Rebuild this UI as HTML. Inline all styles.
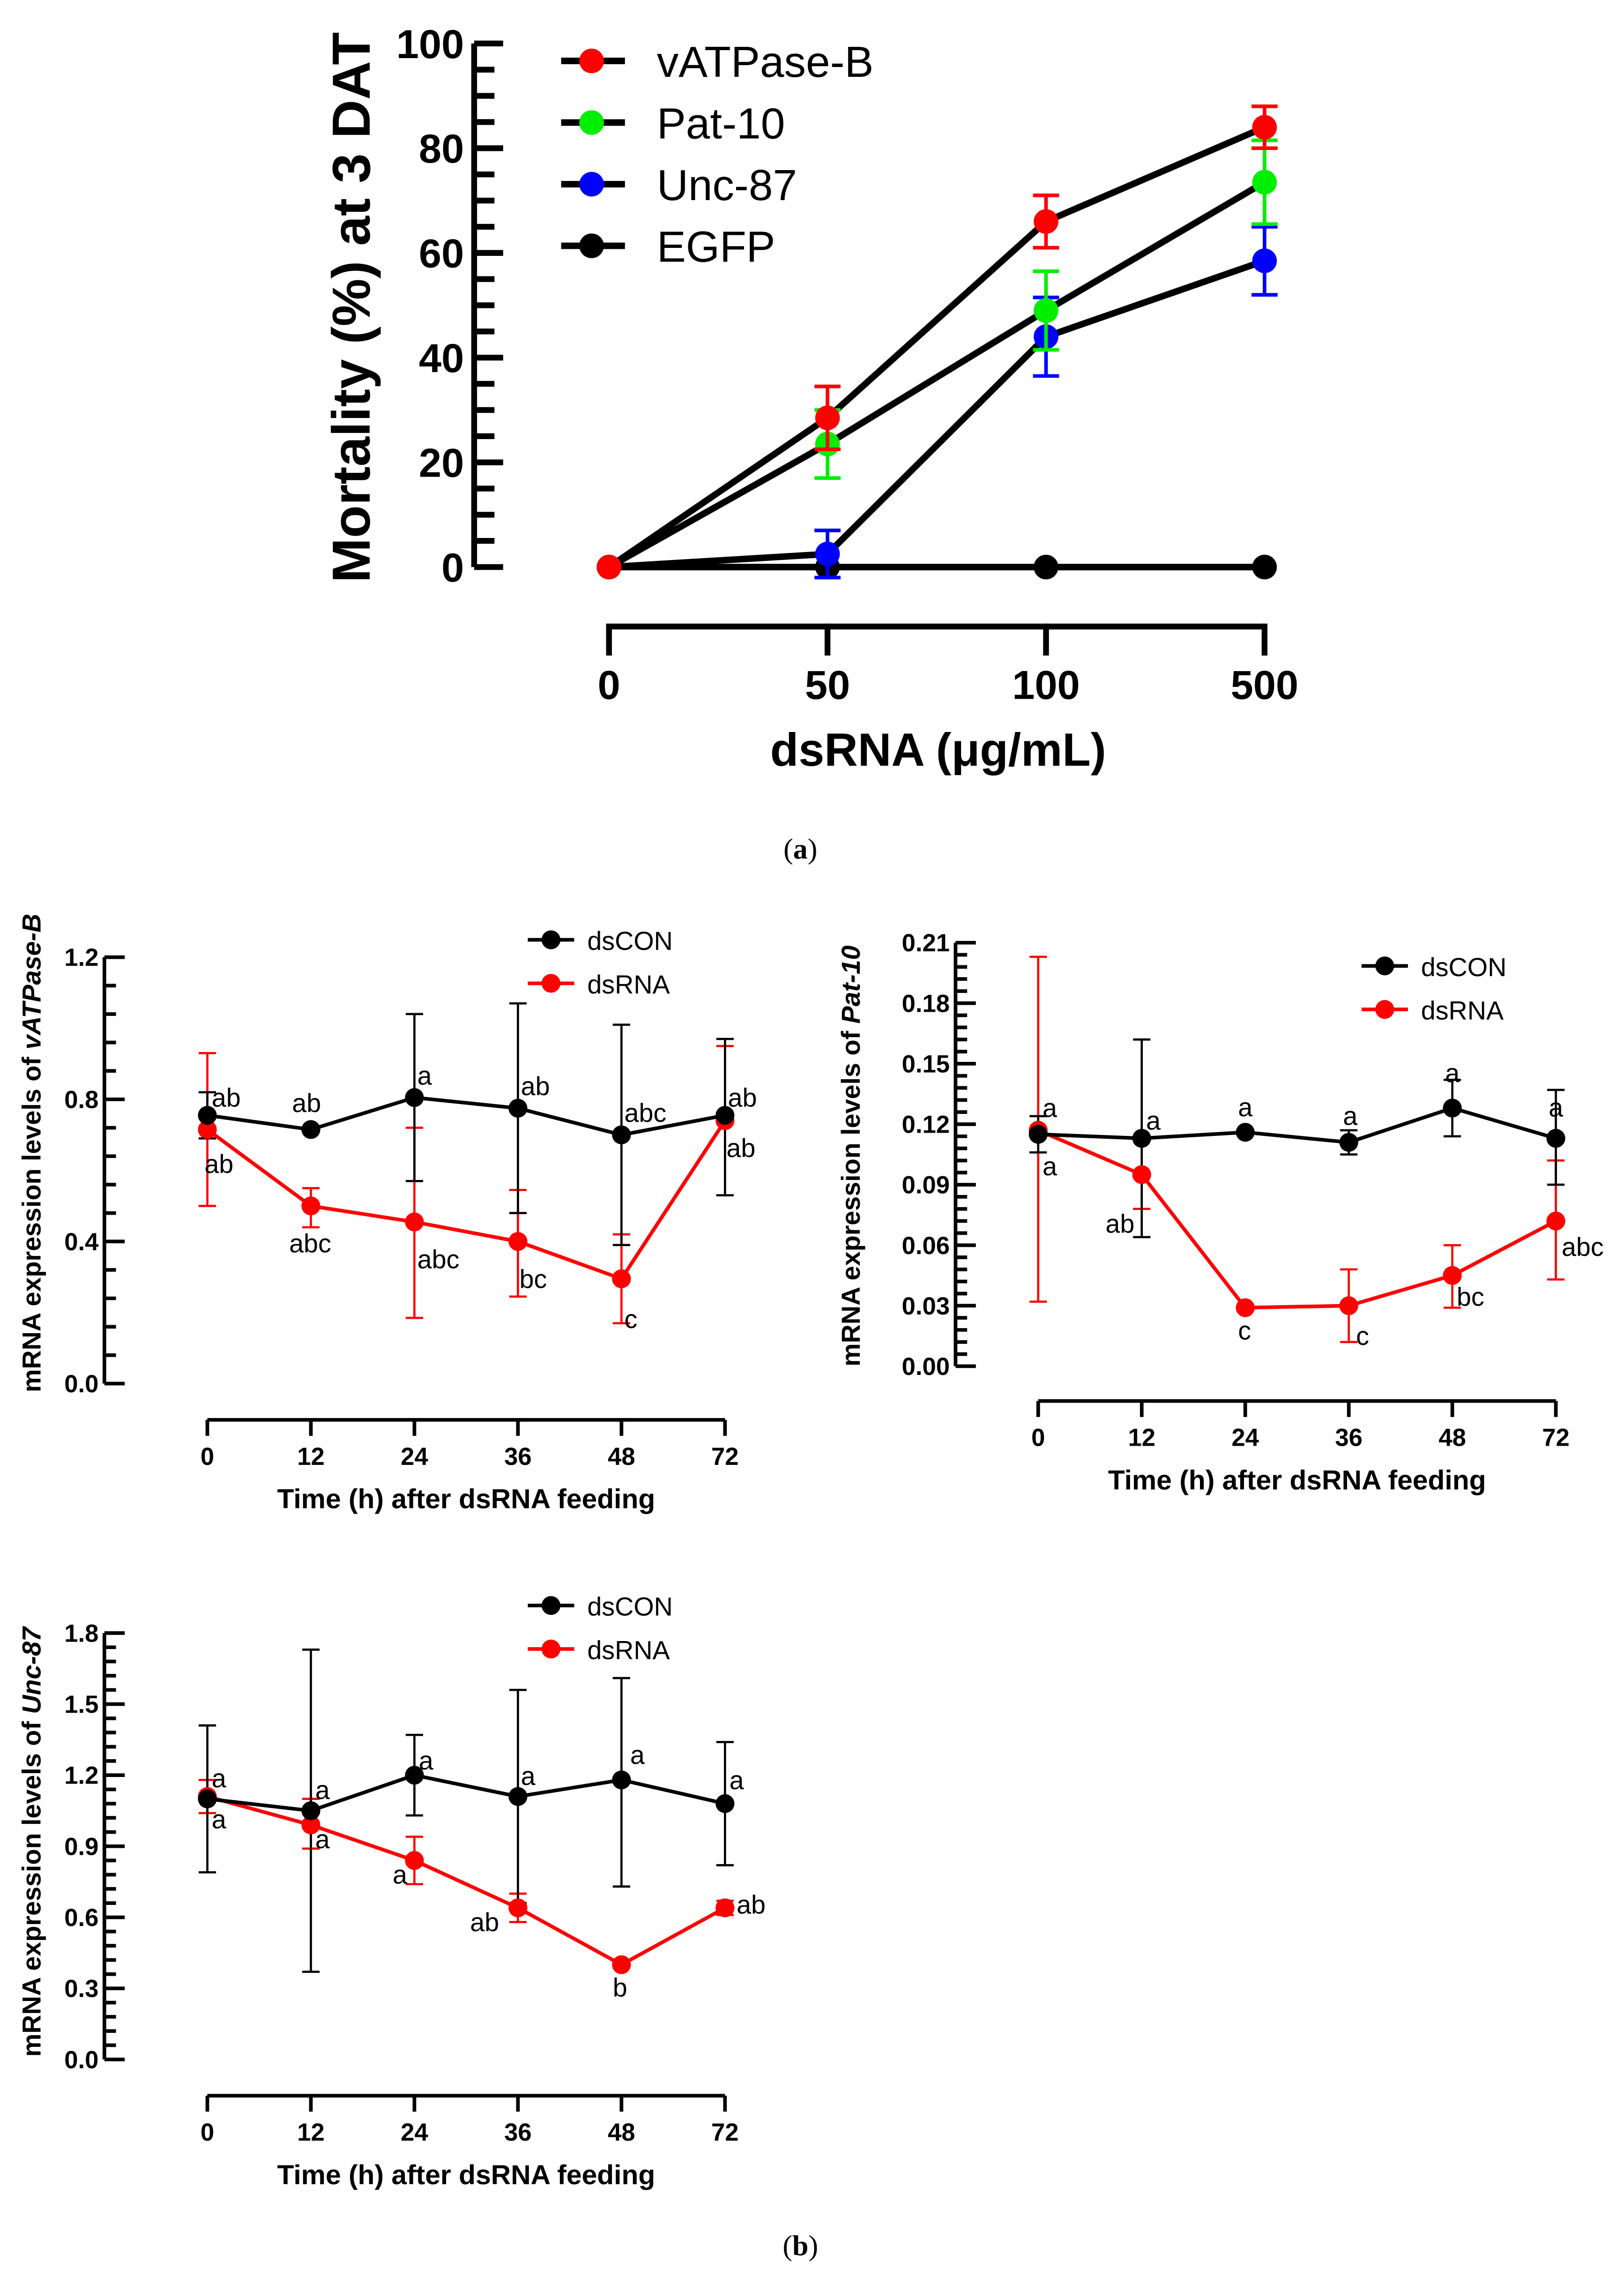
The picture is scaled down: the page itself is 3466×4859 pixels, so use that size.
<!DOCTYPE html>
<html><head><meta charset="utf-8"><style>
html,body{margin:0;padding:0;background:#fff;}
svg{display:block;}
text{font-family:"Liberation Sans",Arial,sans-serif;}
</style></head><body>
<svg id="fig" xmlns="http://www.w3.org/2000/svg" width="3466" height="4859" viewBox="0 0 1120 1570" preserveAspectRatio="none">
<rect x="0" y="0" width="1120" height="1570" fill="#fff"/>
<text x="552" y="592" text-anchor="middle" font-size="20" style="font-family:'Liberation Serif',serif">(<tspan font-weight="bold">a</tspan>)</text>
<text x="552" y="1555" text-anchor="middle" font-size="20" style="font-family:'Liberation Serif',serif">(<tspan font-weight="bold">b</tspan>)</text>
</svg>
<script>
// ---- Panel (a) data ----
const aCats = ["0","50","100","500"];
const aYTicks = [0,20,40,60,80,100];
const aNames = ["vATPase-B","Pat-10","Unc-87","EGFP"];
const aColors = ["#ff0000","#00ee00","#0000ff","#000000"];
const aVATP = [0,28.5,66,84];
const aVATPerr = [0,6,5,4];
const aPat = [0,23.5,49,73.5];
const aPatErr = [0,6.5,7.5,8];
const aUnc = [0,2.5,44,58.5];
const aUncErr = [0,4.5,7.5,6.5];
const aEGFP = [0,0,0,0];
const aEGFPerr = [0,0,0,0];

// ---- Panel (b) data ----
const bCats = ["0","12","24","36","48","72"];
const b1Ticks = ["0.0","0.4","0.8","1.2"];
const b1Con = [0.755,0.715,0.805,0.775,0.70,0.755];
const b1ConHi = [0.82,0.715,1.04,1.07,1.01,0.97];
const b1ConLo = [0.69,0.715,0.57,0.48,0.39,0.53];
const b1Rna = [0.715,0.50,0.455,0.40,0.295,0.74];
const b1RnaHi = [0.93,0.55,0.72,0.545,0.42,0.95];
const b1RnaLo = [0.50,0.44,0.185,0.245,0.17,0.53];
const b1ConLbl = ["ab","ab","a","ab","abc","ab"];
const b1RnaLbl = ["ab","abc","abc","bc","c","ab"];

const b2Ticks = ["0.00","0.03","0.06","0.09","0.12","0.15","0.18","0.21"];
const b2Con = [0.115,0.113,0.116,0.111,0.128,0.113];
const b2ConHi = [0.124,0.162,0.116,0.117,0.142,0.137];
const b2ConLo = [0.106,0.064,0.116,0.105,0.114,0.090];
const b2Rna = [0.117,0.095,0.029,0.030,0.045,0.072];
const b2RnaHi = [0.203,0.095,0.029,0.048,0.060,0.102];
const b2RnaLo = [0.032,0.078,0.029,0.012,0.029,0.043];
const b2ConLbl = ["a","a","a","a","a","a"];
const b2RnaLbl = ["a","ab","c","c","bc","abc"];

const b3Ticks = ["0.0","0.3","0.6","0.9","1.2","1.5","1.8"];
const b3Con = [1.10,1.05,1.20,1.11,1.18,1.08];
const b3ConHi = [1.41,1.73,1.37,1.56,1.61,1.34];
const b3ConLo = [0.79,0.37,1.03,0.66,0.73,0.82];
const b3Rna = [1.11,0.99,0.84,0.64,0.40,0.64];
const b3RnaHi = [1.18,1.10,0.94,0.70,0.40,0.67];
const b3RnaLo = [1.04,0.89,0.74,0.58,0.40,0.61];
const b3ConLbl = ["a","a","a","a","a","a"];
const b3RnaLbl = ["a","a","a","ab","b","ab"];

const NS="http://www.w3.org/2000/svg";
const svg=document.getElementById('fig');
function mk(tag,attrs,parent){const e=document.createElementNS(NS,tag);for(const k in attrs)e.setAttribute(k,attrs[k]);(parent||svg).appendChild(e);return e;}

// ===== Panel (a) =====
(function(){
  const g=mk('g',{});
  
  
  const y0=391,y1=30,axX=327;
  const yS=v=>y0-(v/100)*(y0-y1);
  const xS=i=>420+i*150.7;
  let ax=mk('line',{x1:axX,y1:y1,x2:axX,y2:y0,stroke:'#000','stroke-width':4},g);
  
  
  for(let v=0;v<=100;v+=5){
    const major=v%20===0;
    let t=mk('line',{x1:axX,y1:yS(v),x2:axX+(major?20:14),y2:yS(v),stroke:'#000','stroke-width':4},g);
    
    
  }
  aYTicks.forEach(v=>{
    let t=mk('text',{x:320,y:yS(v)+10,'text-anchor':'end','font-size':28,'font-weight':'bold'},g);
    t.textContent=v;
    
    
  });
  let yt=mk('text',{transform:'translate(255,212) rotate(-90)','text-anchor':'middle','font-size':37,'font-weight':'bold'},g);
  yt.textContent='Mortality (%) at 3 DAT';
  
  
  let xa=mk('line',{x1:xS(0),y1:432,x2:xS(3),y2:432,stroke:'#000','stroke-width':4},g);
  
  
  aCats.forEach((c,i)=>{
    let t=mk('line',{x1:xS(i),y1:430,x2:xS(i),y2:452,stroke:'#000','stroke-width':4},g);
    
    
    let l=mk('text',{x:xS(i),y:482,'text-anchor':'middle','font-size':28,'font-weight':'bold'},g);
    l.textContent=c;
    
    
  });
  let xt=mk('text',{x:647,y:528,'text-anchor':'middle','font-size':32,'font-weight':'bold'},g);
  xt.textContent='dsRNA (μg/mL)';
  
  
  const series=[[aEGFP,aEGFPerr],[aUnc,aUncErr],[aPat,aPatErr],[aVATP,aVATPerr]];
  const idx=[3,2,1,0];
  series.forEach(([vals])=>{
    let p=mk('polyline',{points:vals.map((v,i)=>xS(i)+','+yS(v)).join(' '),fill:'none',stroke:'#000','stroke-width':4.5},g);
    
    
  });
  series.forEach(([vals,err],k)=>{
    const col=aColors[idx[k]];
    vals.forEach((v,i)=>{
      if(err[i]>0){
        let e=mk('path',{d:`M${xS(i)},${yS(v+err[i])}V${yS(v-err[i])}M${xS(i)-9},${yS(v+err[i])}h18M${xS(i)-9},${yS(v-err[i])}h18`,stroke:col,'stroke-width':2.5,fill:'none'},g);
        
        
      }
      let c=mk('circle',{cx:xS(i),cy:yS(v),r:8.5,fill:col},g);
      
      
    });
  });
  aNames.forEach((n,i)=>{
    const y=42+i*42.5;
    let l=mk('line',{x1:387,y1:y,x2:431,y2:y,stroke:'#000','stroke-width':4.5},g);
    
    
    let c=mk('circle',{cx:408,cy:y,r:8.5,fill:aColors[i]},g);
    
    
    let t=mk('text',{x:453,y:y+11,'font-size':30},g);
    t.textContent=n;
    
    
  });
})();

// ===== Panel (b) helper =====
function bPanel(o){
  const g=mk('g',{});
  
  
  const yS=v=>o.y0-(v/o.max)*(o.y0-o.y1);
  const xS=i=>o.x0+i*(o.x1-o.x0)/5;
  let ax=mk('line',{x1:o.axX,y1:o.y1,x2:o.axX,y2:o.y0,stroke:'#000','stroke-width':2.5},g);
  
  
  const nMaj=o.ticks.length-1, nMin=nMaj*5;
  for(let k=0;k<=nMin;k++){
    const yy=o.y0-k*(o.y0-o.y1)/nMin, major=k%5===0;
    let t=mk('line',{x1:o.axX,y1:yy,x2:o.axX+(major?14:8),y2:yy,stroke:'#000','stroke-width':2.5},g);
    
    
  }
  o.ticks.forEach((s,k)=>{
    let t=mk('text',{x:o.axX-4,y:o.y0-k*(o.y0-o.y1)/nMaj+6,'text-anchor':'end','font-size':17,'font-weight':'bold'},g);
    t.textContent=s;
    
    
  });
  let yt=mk('text',{transform:`translate(${o.ytX},${o.ytY}) rotate(-90)`,'text-anchor':'middle','font-size':18,'font-weight':'bold'},g);
  yt.innerHTML='mRNA expression levels of <tspan font-style="italic">'+o.gene+'</tspan>';
  
  
  let xa=mk('line',{x1:xS(0),y1:o.xaY,x2:xS(5),y2:o.xaY,stroke:'#000','stroke-width':2.5},g);
  
  
  bCats.forEach((c,i)=>{
    let t=mk('line',{x1:xS(i),y1:o.xaY,x2:xS(i),y2:o.xaY+11,stroke:'#000','stroke-width':2.5},g);
    
    
    let l=mk('text',{x:xS(i),y:o.xaY+31,'text-anchor':'middle','font-size':17,'font-weight':'bold'},g);
    l.textContent=c;
    
    
  });
  let xt=mk('text',{x:(xS(0)+xS(5))/2,y:o.xaY+61,'text-anchor':'middle','font-size':19,'font-weight':'bold'},g);
  xt.textContent='Time (h) after dsRNA feeding';
  
  
  const sets=[[o.con,o.conHi,o.conLo,'#000',o.conLbl,o.conOff],[o.rna,o.rnaHi,o.rnaLo,'#ff0000',o.rnaLbl,o.rnaOff]];
  [sets[1],sets[0]].forEach(([v,hi,lo,col])=>{
    v.forEach((_,i)=>{
      if(hi[i]!==lo[i]){
        let e=mk('path',{d:`M${xS(i)},${yS(hi[i])}V${yS(lo[i])}M${xS(i)-6},${yS(hi[i])}h12M${xS(i)-6},${yS(lo[i])}h12`,stroke:col,'stroke-width':1.5,fill:'none'},g);
        
        
      }
    });
  });
  [sets[1],sets[0]].forEach(([v,hi,lo,col])=>{
    let p=mk('polyline',{points:v.map((val,i)=>xS(i)+','+yS(val)).join(' '),fill:'none',stroke:col,'stroke-width':2.5},g);
    
    
    v.forEach((val,i)=>{
      let c=mk('circle',{cx:xS(i),cy:yS(val),r:6.5,fill:col},g);
      
      
    });
  });
  sets.forEach(([v,hi,lo,col,lbl,off])=>{
    lbl.forEach((s,i)=>{
      let t=mk('text',{x:xS(i)+off[i][0],y:yS(v[i])+off[i][1],'font-size':18},g);
      t.textContent=s;
      
      
    });
  });
  [['dsCON','#000',o.legY],['dsRNA','#ff0000',o.legY+30]].forEach(([n,col,y])=>{
    let l=mk('line',{x1:o.legX-16,y1:y,x2:o.legX+16,y2:y,stroke:col,'stroke-width':2.5},g);
    
    
    let c=mk('circle',{cx:o.legX,cy:y,r:6.5,fill:col},g);
    
    
    let t=mk('text',{x:o.legX+25,y:y+7,'font-size':18},g);
    t.textContent=n;
    
    
  });
}

bPanel({name:'vatpase-chart',gene:'vATPase-B',ticks:b1Ticks,max:1.2,y0:954,y1:660,axX:72,x0:143,x1:500,xaY:979,ytX:28,ytY:795,legX:380,legY:648,
  con:b1Con,conHi:b1ConHi,conLo:b1ConLo,rna:b1Rna,rnaHi:b1RnaHi,rnaLo:b1RnaLo,conLbl:b1ConLbl,rnaLbl:b1RnaLbl,
  conOff:[[3,-6],[-13,-12],[2,-9],[2,-9],[2,-9],[2,-6]],rnaOff:[[-2,30],[-15,32],[2,32],[1,32],[2,34],[1,25]]});
bPanel({name:'pat10-chart',gene:'Pat-10',ticks:b2Ticks,max:0.21,y0:942,y1:650,axX:659,x0:716,x1:1073,xaY:966,ytX:593,ytY:797,legX:955,legY:666,
  con:b2Con,conHi:b2ConHi,conLo:b2ConLo,rna:b2Rna,rnaHi:b2RnaHi,rnaLo:b2RnaLo,conLbl:b2ConLbl,rnaLbl:b2RnaLbl,
  conOff:[[3,-12],[3,-6],[-5,-11],[-4,-12],[-5,-18],[-5,-15]],rnaOff:[[3,31],[-25,40],[-5,22],[5,27],[3,21],[4,24]]});
bPanel({name:'unc87-chart',gene:'Unc-87',ticks:b3Ticks,max:1.8,y0:1420,y1:1126,axX:72,x0:143,x1:500,xaY:1445,ytX:28,ytY:1270,legX:380,legY:1107,
  con:b3Con,conHi:b3ConHi,conLo:b3ConLo,rna:b3Rna,rnaHi:b3RnaHi,rnaLo:b3RnaLo,conLbl:b3ConLbl,rnaLbl:b3RnaLbl,
  conOff:[[3,-8],[3,-8],[3,-4],[2,-8],[6,-11],[3,-10]],rnaOff:[[3,22],[3,16],[-15,16],[-33,16],[-6,22],[8,4]]});
</script>
</body></html>
